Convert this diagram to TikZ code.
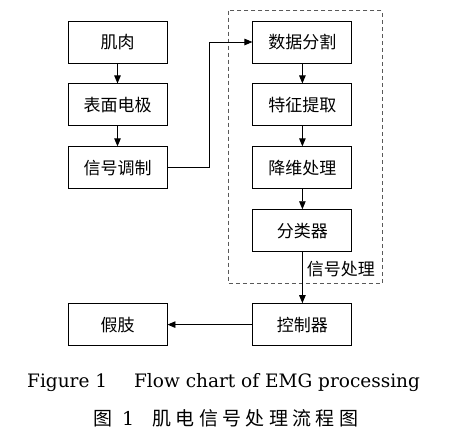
\documentclass[tikz,border=0pt]{standalone}
\usepackage{fontspec}
\newfontfamily\cjk{Noto Sans CJK SC}
\newfontfamily\cjkwide[LetterSpace=23]{Noto Sans CJK SC}
\newfontfamily\capfont{DejaVu Serif}
\usetikzlibrary{arrows.meta,positioning,calc}

\begin{document}
\begin{tikzpicture}[
    x=1pt, y=1pt,
    node distance=20pt and 85pt,
    every node/.style={font=\cjk\fontsize{17}{19}\selectfont},
    box/.style={
      draw,
      line width=0.9pt,
      minimum width=99pt,
      minimum height=42pt,
      inner sep=0pt
    },
    arrow/.style={-{Triangle[length=8pt,width=6.5pt]}, line width=0.9pt},
    group/.style={draw=black!65, dashed, dash pattern=on 4pt off 3pt, line width=0.9pt}
  ]
    \useasboundingbox (0,0) rectangle (469,-442);

    \node[box] (muscle) at (117.5,-42) {肌肉};
    \node[box, below=of muscle] (electrode) {表面电极};
    \node[box, below=of electrode] (modul) {信号调制};

    \node[box, right=of muscle] (segment) {数据分割};
    \node[box, below=of segment] (feature) {特征提取};
    \node[box, below=of feature] (reduce) {降维处理};
    \node[box, below=of reduce] (classify) {分类器};

    \node[box, below=51pt of classify] (ctrl) {控制器};
    \node[box, left=of ctrl] (limb) {假肢};

    % signal processing block
    \draw[group] ($(segment.north west)+(-24pt,10pt)$) rectangle ($(classify.south east)+(30pt,-31pt)$);

    \draw[arrow] (muscle) -- (electrode);
    \draw[arrow] (electrode) -- (modul);
    \draw[arrow] (modul.east) -- ++(42pt,0) |- (segment.west);
    \draw[arrow] (segment) -- (feature);
    \draw[arrow] (feature) -- (reduce);
    \draw[arrow] (reduce) -- (classify);
    \draw[arrow] (classify) -- node[right, pos=0.33, inner sep=4pt] {信号处理} (ctrl);
    \draw[arrow] (ctrl) -- (limb);

    % captions
    \node[font=\capfont\fontsize{18.5}{21}\selectfont, anchor=west, inner sep=0pt] (capen) at (27,-383) {Figure 1\hspace{27pt}Flow chart of EMG processing};
    \node[font=\cjkwide\fontsize{19}{22}\selectfont, anchor=west, inner sep=0pt] (capcn) at (93,-418) {图\hspace{10pt}{\capfont 1}\hspace{18pt}肌电信号处理流程图};
\end{tikzpicture}
\end{document}
